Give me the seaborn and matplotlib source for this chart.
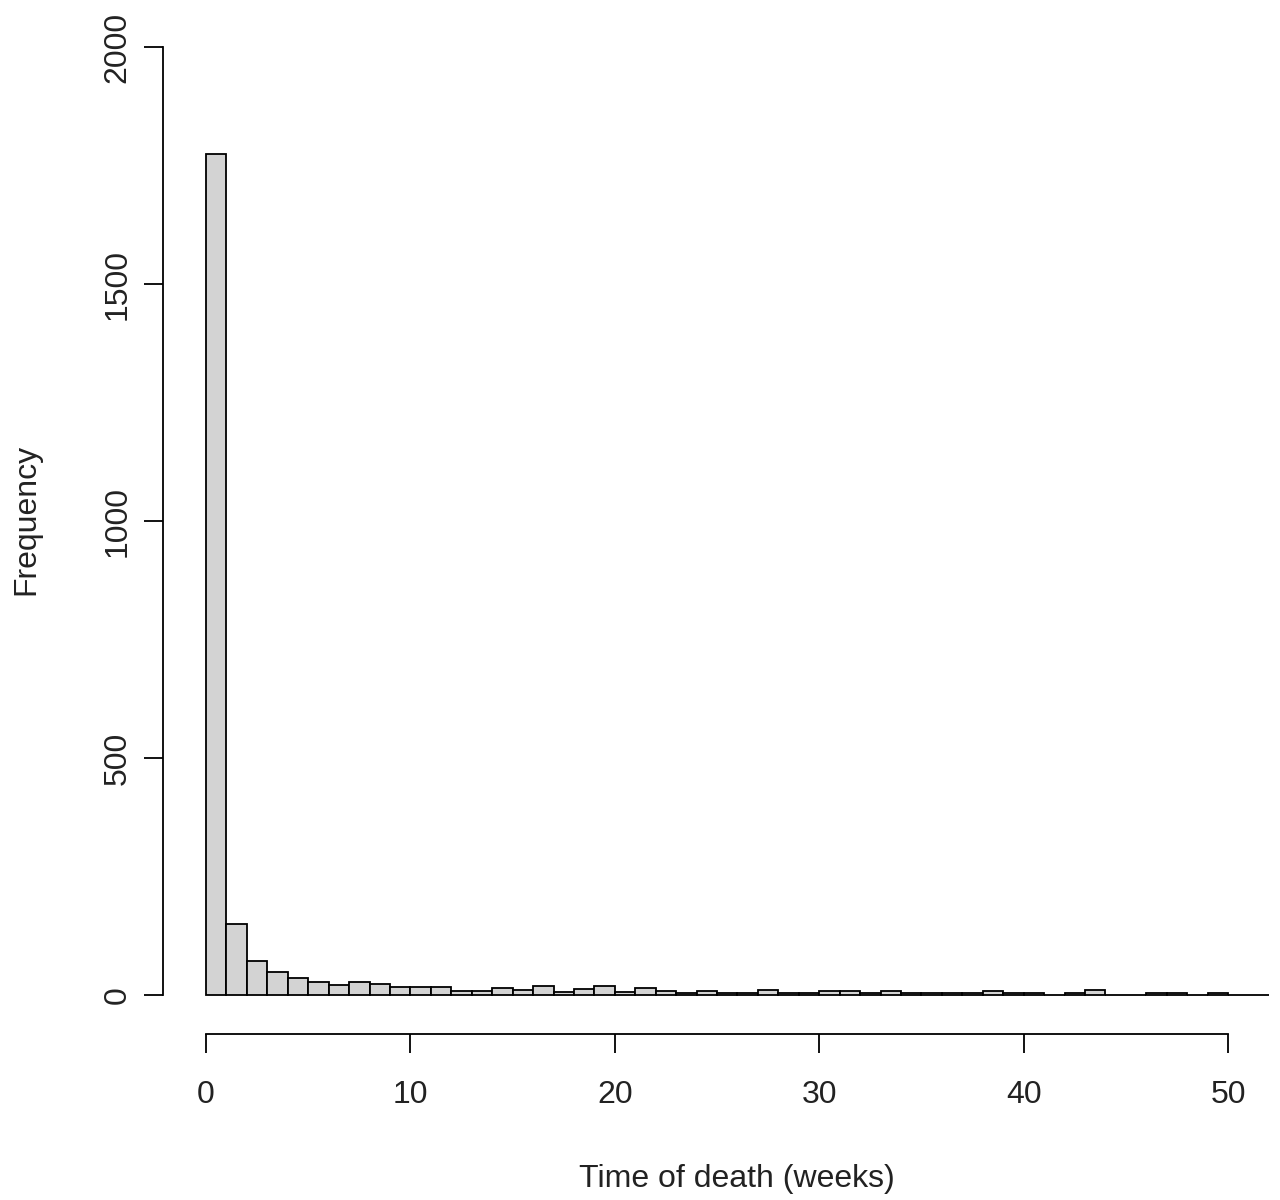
import numpy as np
import pandas as pd
import matplotlib
matplotlib.use("Agg")
import matplotlib.pyplot as plt
import seaborn as sns

# weekly bins of time of death, counts
bin_start = list(range(0, 52))
counts = [1775, 150, 71, 49, 36, 28, 22, 28, 23, 17,
          17, 17, 9, 9, 15, 10, 18, 7, 13, 20,
          7, 14, 9, 4, 9, 4, 4, 10, 4, 4,
          9, 9, 4, 9, 4, 4, 4, 4, 9, 4,
          4, 0, 4, 10, 0, 0, 4, 4, 0, 4,
          0, 0]
x_ticks = [0, 10, 20, 30, 40, 50]
y_ticks = [0, 500, 1000, 1500, 2000]

df = pd.DataFrame({"week": np.array(bin_start) + 0.5, "n": counts})

sns.set_style("white")
plt.rcParams['font.family'] = ['Liberation Sans', 'DejaVu Sans']

fig = plt.figure(figsize=(12.8, 12), dpi=100)
ax = fig.add_axes([163 / 1280, 166 / 1200, 1117 / 1280, 994 / 1200])

sns.histplot(data=df, x="week", weights="n", binwidth=1, binrange=(0, 52),
             color="#D3D3D3", edgecolor="black", linewidth=1.3,
             alpha=1, ax=ax)

ax.set_xlim(-2.104, 52.54)
ax.set_ylim(-82.3, 2014.8)

for s in ["top", "right"]:
    ax.spines[s].set_visible(False)
ax.spines["left"].set_bounds(0, 2000)
ax.spines["bottom"].set_bounds(0, 50)
for s in ["left", "bottom"]:
    ax.spines[s].set_linewidth(1.3)
    ax.spines[s].set_color("black")

ax.set_xticks(x_ticks)
ax.set_yticks(y_ticks)
ax.tick_params(axis="both", direction="out", length=14, width=1.3,
               color="black", labelcolor="#222222", labelsize=23,
               left=True, bottom=True)
ax.tick_params(axis="x", pad=19)
ax.tick_params(axis="y", pad=8)
for lab in ax.get_yticklabels():
    lab.set_rotation(90)
    lab.set_va("center")

ax.set_xlabel("Time of death (weeks)", fontsize=23, labelpad=39, color="#222222")
ax.set_ylabel("Frequency", fontsize=23, labelpad=44, color="#222222")
# R centres axis titles on the full plot region
ax.xaxis.label.set_x(0.514)
ax.yaxis.label.set_y(0.518)
ax.grid(False)

fig.savefig("out.png", dpi=100)
